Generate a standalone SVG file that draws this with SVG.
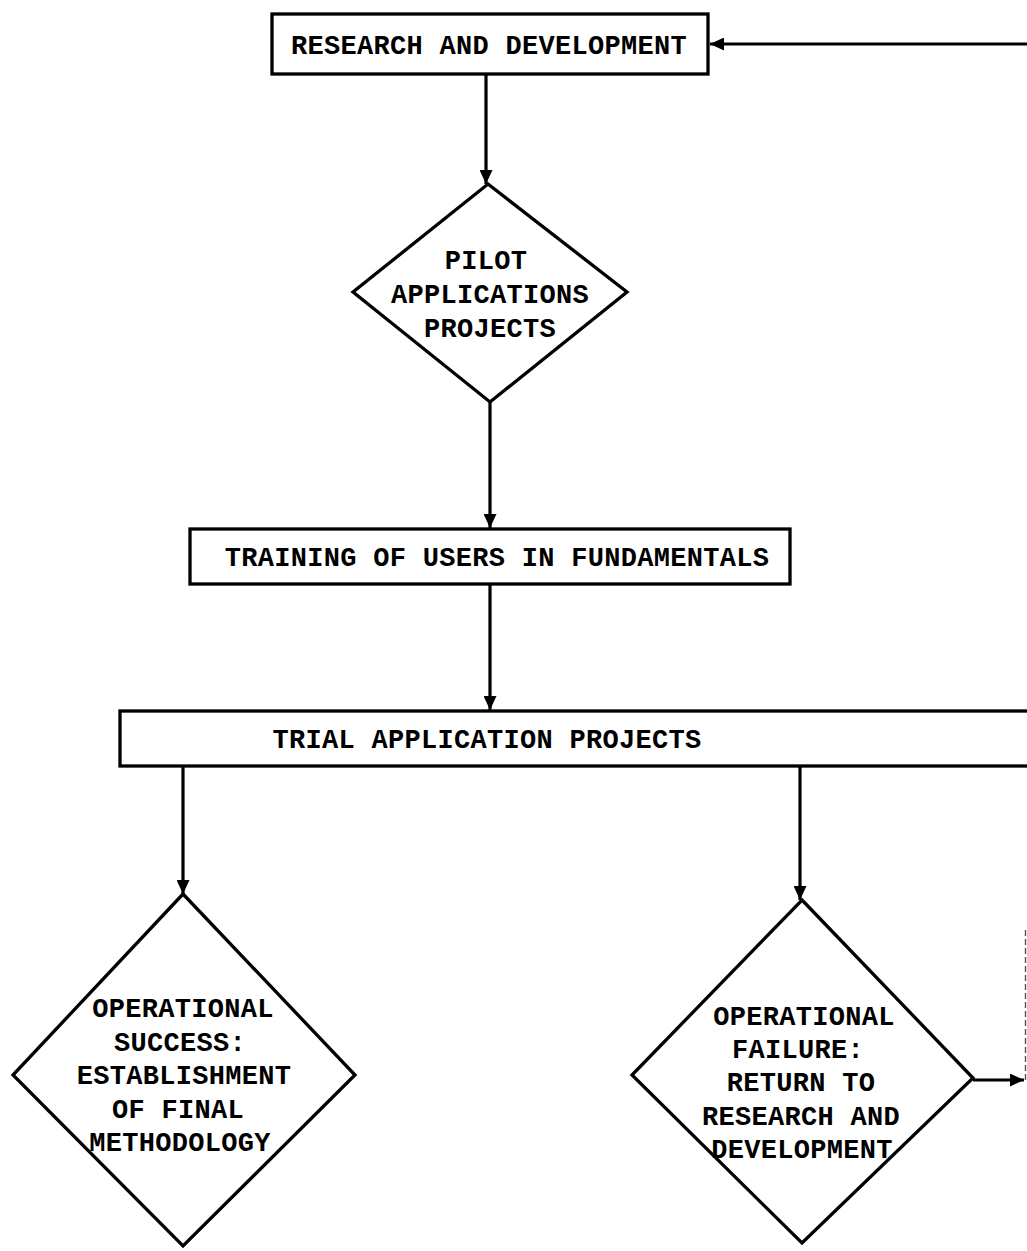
<svg xmlns="http://www.w3.org/2000/svg" width="1027" height="1251" viewBox="0 0 1027 1251">
  <style>
    .shape { fill: #ffffff; stroke: #000000; stroke-width: 3.3; stroke-linejoin: miter; }
    .label { font-family: "Liberation Mono", "Courier New", monospace; font-weight: bold; font-size: 27px; letter-spacing: 0.3px; fill: #000000; text-anchor: middle; }
    .wire { fill: none; stroke: #000000; stroke-width: 3.2; }
    .faint { fill: none; stroke: #555555; stroke-width: 1.4; stroke-dasharray: 6 3; }
  </style>
  <defs>
    <marker id="arrow" markerUnits="userSpaceOnUse" markerWidth="15" markerHeight="13" refX="14" refY="6.5" orient="auto">
      <path d="M0,0 L14,6.5 L0,13 Z" fill="#000000"/>
    </marker>
  </defs>

  <rect width="1027" height="1251" fill="#ffffff"/>

  <!-- connectors -->
  <g id="connectors">
    <line class="wire" x1="1030" y1="44" x2="710" y2="44" marker-end="url(#arrow)"/>
    <line class="wire" x1="486" y1="74" x2="486" y2="184" marker-end="url(#arrow)"/>
    <line class="wire" x1="490" y1="402" x2="490" y2="528" marker-end="url(#arrow)"/>
    <line class="wire" x1="490" y1="584" x2="490" y2="710" marker-end="url(#arrow)"/>
    <line class="wire" x1="183" y1="766" x2="183" y2="894" marker-end="url(#arrow)"/>
    <line class="wire" x1="800" y1="766" x2="800" y2="900" marker-end="url(#arrow)"/>
    <line class="wire" x1="973" y1="1080" x2="1024" y2="1080" marker-end="url(#arrow)"/>
    <line class="faint" x1="1025.5" y1="930" x2="1025.5" y2="1080"/>
  </g>

  <!-- research and development -->
  <g id="node-research">
    <rect class="shape" x="272" y="14" width="436" height="60"/>
    <text class="label" x="489" y="54">RESEARCH AND DEVELOPMENT</text>
  </g>

  <!-- pilot applications -->
  <g id="node-pilot">
    <polygon class="shape" points="488,184 627,292 490,402 353,292"/>
    <text class="label" x="486" y="269">PILOT</text>
    <text class="label" x="490" y="303">APPLICATIONS</text>
    <text class="label" x="490" y="337">PROJECTS</text>
  </g>

  <!-- training -->
  <g id="node-training">
    <rect class="shape" x="190" y="529" width="600" height="55"/>
    <text class="label" x="497" y="566">TRAINING OF USERS IN FUNDAMENTALS</text>
  </g>

  <!-- trial application projects -->
  <g id="node-trial">
    <rect class="shape" x="120" y="711" width="920" height="55"/>
    <text class="label" x="487" y="748">TRIAL APPLICATION PROJECTS</text>
  </g>

  <!-- operational success -->
  <g id="node-success">
    <polygon class="shape" points="183,894 355,1075 183,1246 13,1075"/>
    <text class="label" x="183" y="1017">OPERATIONAL</text>
    <text class="label" x="180" y="1051">SUCCESS:</text>
    <text class="label" x="184" y="1084">ESTABLISHMENT</text>
    <text class="label" x="178" y="1118">OF FINAL</text>
    <text class="label" x="180" y="1151">METHODOLOGY</text>
  </g>

  <!-- operational failure -->
  <g id="node-failure">
    <polygon class="shape" points="802,900 973,1078 802,1243 632,1075"/>
    <text class="label" x="804" y="1025">OPERATIONAL</text>
    <text class="label" x="798" y="1058">FAILURE:</text>
    <text class="label" x="801" y="1091">RETURN TO</text>
    <text class="label" x="801" y="1125">RESEARCH AND</text>
    <text class="label" x="802" y="1158">DEVELOPMENT</text>
  </g>
</svg>
